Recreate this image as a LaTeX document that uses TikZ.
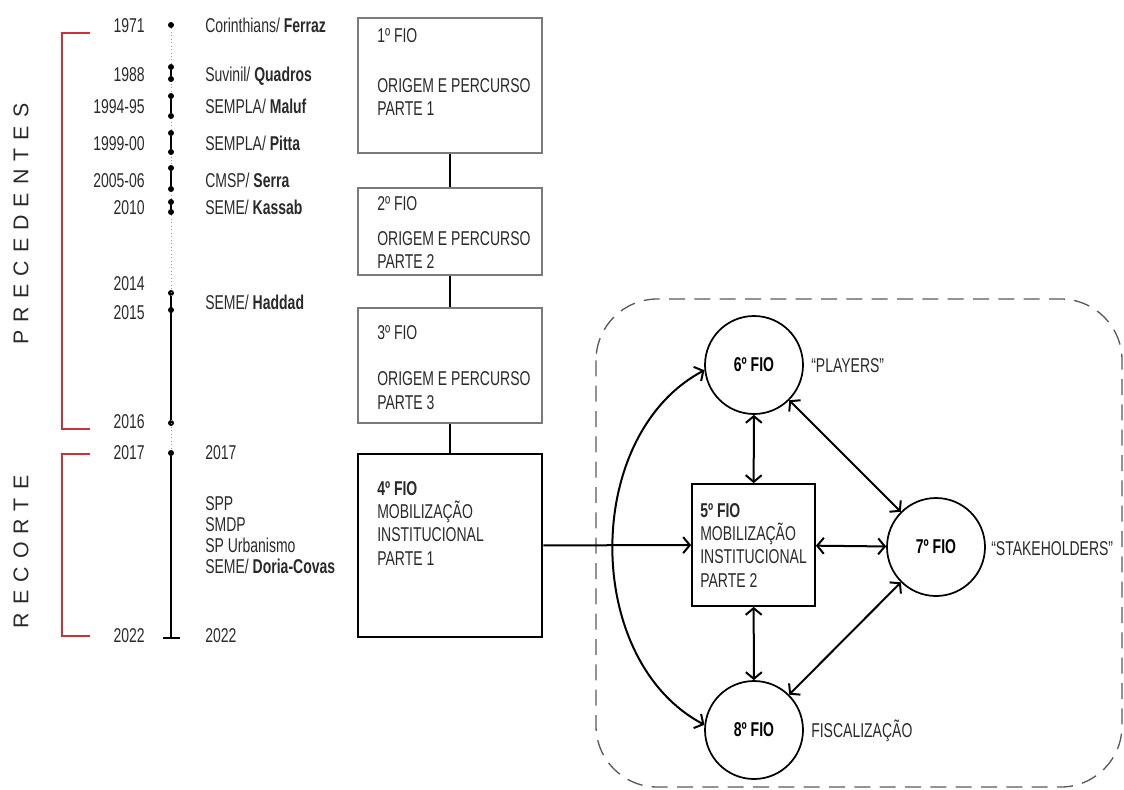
\documentclass[tikz,border=0pt]{standalone}
\usepackage{fontspec}
\setmainfont[FakeStretch=0.70]{Liberation Sans}
\newfontfamily\spacedfont[LetterSpace=38]{Liberation Sans}
\usepackage{tikz}
\usetikzlibrary{arrows.meta,positioning}
\definecolor{bracketred}{HTML}{CC3038}
\definecolor{boxgray}{HTML}{7A7A7A}
\definecolor{inkgray}{HTML}{2A2A2A}
\newcommand{\yearspan}[3]{
    \node[yeardot] (#1a) at (171,#2) {};
    \node[yeardot] (#1b) at (171,#3) {};
    \draw[timeline] (#1a) -- (#1b);
}

\begin{document}
\begin{tikzpicture}[x=0.75pt,y=-0.75pt,
        font=\fontsize{15}{17.5}\selectfont,
        yeardot/.style={circle,fill=black,inner sep=0pt,minimum size=4.5pt},
        timeline/.style={line width=1pt},
        year/.style={anchor=east,text=inkgray,inner sep=0pt,text height=10.7pt,text depth=0pt},
        who/.style={anchor=west,text=inkgray,inner sep=0pt,text height=10.7pt,text depth=0pt},
        fiobox/.style={draw=boxgray,line width=1.5pt,minimum width=138pt,inner sep=0pt},
        fiotext/.style={anchor=north west,align=left,text=inkgray,inner sep=0pt},
        fiocircle/.style={draw,circle,line width=1.3pt,minimum size=73.5pt,inner sep=0pt,font=\fontsize{15}{17.5}\selectfont\bfseries},
        link/.style={line width=1.5pt,{Straight Barb[length=5pt,width=12pt]}-{Straight Barb[length=5pt,width=12pt]}},
        bracket/.style={draw=bracketred,line width=1.3pt},
        frame/.style={draw=black!65,line width=1pt,dash pattern=on 12pt off 7pt,rounded corners=46pt}]
        \useasboundingbox (0,0) rectangle (1124,789);

        \draw[bracket] (90,33) -- (62,33) -- (62,429) -- (90,429);
        \draw[bracket] (90,454) -- (62,454) -- (62,636) -- (90,636);
        \node[rotate=90,font=\fontsize{16}{17}\selectfont\spacedfont,text=inkgray] (precedentes) at (21,224) {PRECEDENTES};
        \node[rotate=90,font=\fontsize{16}{17}\selectfont\spacedfont,text=inkgray] (recorte) at (21,552) {RECORTE};

        \node[yeardot] (y71) at (171,25) {};
        \node[yeardot] (y14) at (171,293) {};
        \node[yeardot] (y15) at (171,310) {};
        \node[yeardot] (y16) at (171,423) {};
        \node[yeardot] (y17) at (171,453) {};
        \coordinate (y22) at (171,638);
        \draw[dotted,black!40,line width=0.6pt] (y71) -- (y17);
        \yearspan{y88}{67}{79}
        \yearspan{y94}{96}{116}
        \yearspan{y99}{133}{152}
        \yearspan{y05}{168}{189}
        \yearspan{y10}{202}{212}
        \draw[timeline] (y14) -- (y16);
        \draw[timeline] (y17) -- (y22);
        \draw[line width=1.6pt] (y22) ++(-8,0) -- ++(17,0);

        \node[year] (t71) at (145,25) {1971};
        \node[year] (t88) at (145,74) {1988};
        \node[year] (t94) at (145,106) {1994-95};
        \node[year] (t99) at (145,143) {1999-00};
        \node[year] (t05) at (145,180) {2005-06};
        \node[year] (t10) at (145,207) {2010};
        \node[year] (t14) at (145,283) {2014};
        \node[year] (t15) at (145,312) {2015};
        \node[year] (t16) at (145,421) {2016};
        \node[year] (t17) at (145,452) {2017};
        \node[year] (t22) at (145,635) {2022};

        \node[who] (w71) at (205,25) {Corinthians/ \textbf{Ferraz}};
        \node[who] (w88) at (205,74) {Suvinil/ \textbf{Quadros}};
        \node[who] (w94) at (205,106) {SEMPLA/ \textbf{Maluf}};
        \node[who] (w99) at (205,143) {SEMPLA/ \textbf{Pitta}};
        \node[who] (w05) at (205,180) {CMSP/ \textbf{Serra}};
        \node[who] (w10) at (205,207) {SEME/ \textbf{Kassab}};
        \node[who] (w14) at (205,302) {SEME/ \textbf{Haddad}};
        \node[who] (w17) at (205,452) {2017};
        \node[who] (spp) at (205,503) {SPP};
        \node[who] (smdp) at (205,524) {SMDP};
        \node[who] (spurb) at (205,545) {SP Urbanismo};
        \node[who] (w22) at (205,566) {SEME/ \textbf{Doria-Covas}};
        \node[who] (w22b) at (205,635) {2022};

        \node[fiobox,minimum height=101.25pt] (fio1) at (450,85.5) {};
        \node[fiobox,minimum height=65.25pt] (fio2) at (450,231.5) {};
        \node[fiobox,minimum height=86.25pt] (fio3) at (450,365.5) {};
        \node[fiobox,draw=black,line width=2pt,minimum height=137.25pt] (fio4) at (450,545.5) {};
        \node[fiotext] (fio1t) at (377,28) {1º FIO\\[20pt]ORIGEM E PERCURSO\\PARTE 1};
        \node[fiotext] (fio2t) at (377,196) {2º FIO\\[9pt]ORIGEM E PERCURSO\\PARTE 2};
        \node[fiotext] (fio3t) at (377,325) {3º FIO\\[17.5pt]ORIGEM E PERCURSO\\PARTE 3};
        \node[fiotext] (fio4t) at (377,481) {\textbf{4º FIO}\\MOBILIZAÇÃO\\INSTITUCIONAL\\PARTE 1};
        \draw[line width=0.9pt] (fio1) -- (fio2);
        \draw[line width=0.9pt] (fio2) -- (fio3);
        \draw[line width=0.9pt] (fio3) -- (fio4);

        \draw[frame] (596,299) rectangle (1122,787);
        \node[draw,line width=1.3pt,minimum width=92.25pt,minimum height=91.5pt,inner sep=0pt] (fio5) at (753.5,545) {};
        \node[fiotext] (fio5t) at (700,503) {\textbf{5º FIO}\\MOBILIZAÇÃO\\INSTITUCIONAL\\PARTE 2};
        \node[fiocircle] (fio6) at (754,365) {6º FIO};
        \node[fiocircle] (fio7) at (936,547) {7º FIO};
        \node[fiocircle] (fio8) at (754,730) {8º FIO};
        \node[who] (players) at (811,365) {“PLAYERS”};
        \node[who] (stake) at (991,548) {“STAKEHOLDERS”};
        \node[who] (fiscal) at (811,730) {FISCALIZAÇÃO};

        \draw[line width=1.5pt,-{Straight Barb[length=5pt,width=12pt]}] (fio4) -- (fio5);
        \draw[link] (fio6.186) to[bend right=62] (fio8.174);
        \draw[link] (fio6) -- (fio5);
        \draw[link] (fio5) -- (fio8);
        \draw[link] (fio5) -- (fio7);
        \draw[link] (fio6) -- (fio7);
        \draw[link] (fio7) -- (fio8);
\end{tikzpicture}
\end{document}
